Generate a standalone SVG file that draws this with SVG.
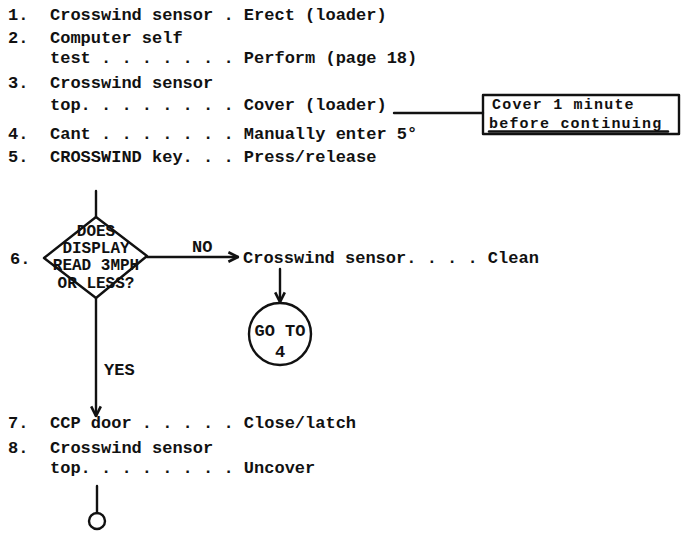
<svg xmlns="http://www.w3.org/2000/svg" width="682" height="533" viewBox="0 0 682 533">
<style>
text{font-family:"Liberation Mono","DejaVu Sans Mono",monospace;font-weight:bold;font-size:17px;fill:#111}
.d{font-size:16px}
.b{font-size:15px;letter-spacing:1.2px}
.ln{fill:none;stroke:#111;stroke-width:2.4;stroke-linecap:round;stroke-linejoin:round}
</style>
<defs>
<marker id="ah" viewBox="0 0 10 10" refX="9" refY="5" markerWidth="5" markerHeight="5" orient="auto" markerUnits="strokeWidth">
<path d="M1,1 L9,5 L1,9" fill="none" stroke="#111" stroke-width="2.2"/>
</marker>
</defs>
<rect width="682" height="533" fill="#fff"/>
<g id="step1"><text x="8" y="20">1.</text><text x="50" y="20">Crosswind sensor . Erect (loader)</text></g>
<g id="step2"><text x="8" y="43">2.</text><text x="50" y="43">Computer self</text><text x="50" y="63">test . . . . . . . Perform (page 18)</text></g>
<g id="step3"><text x="8" y="88">3.</text><text x="50" y="88">Crosswind sensor</text><text x="50" y="110">top. . . . . . . . Cover (loader)</text></g>
<g id="note"><rect class="ln" x="483" y="95" width="196" height="39"/><text class="b" x="492" y="109">Cover 1 minute</text><text class="b" x="489" y="128">before continuing</text><line class="ln" x1="489" y1="131.5" x2="668" y2="131.5" stroke-width="1.6"/></g>
<g id="step4"><text x="8" y="139">4.</text><text x="50" y="139">Cant . . . . . . . Manually enter 5°</text></g>
<g id="step5"><text x="8" y="162">5.</text><text x="50" y="162">CROSSWIND key. . . Press/release</text></g>
<g id="decision"><text x="10" y="264">6.</text><path class="ln" d="M96,217 L44,258 M96,217 L147,256 M44,258 L96,298 M147,256 L96,298"/>
<text class="d" x="96" y="236" text-anchor="middle">DOES</text>
<text class="d" x="96" y="253" text-anchor="middle">DISPLAY</text>
<text class="d" x="96" y="270" text-anchor="middle">READ 3MPH</text>
<text class="d" x="96" y="288" text-anchor="middle">OR LESS?</text></g>
<g id="clean"><text x="243" y="263">Crosswind sensor. . . . Clean</text></g>
<g id="goto"><circle class="ln" cx="280" cy="334" r="31"/><text x="280" y="336" text-anchor="middle">GO TO</text><text x="280" y="357" text-anchor="middle">4</text></g>
<g id="step7"><text x="8" y="428">7.</text><text x="50" y="428">CCP door . . . . . Close/latch</text></g>
<g id="step8"><text x="8" y="453">8.</text><text x="50" y="453">Crosswind sensor</text><text x="50" y="473">top. . . . . . . . Uncover</text></g>
<g id="end"><circle class="ln" cx="97" cy="521" r="8"/></g>
<g id="connectors">
<line class="ln" x1="394" y1="113" x2="483" y2="113"/>
<line class="ln" x1="96" y1="191" x2="96" y2="217"/>
<line class="ln" x1="147" y1="257" x2="238" y2="257" marker-end="url(#ah)"/>
<text x="192" y="252">NO</text>
<line class="ln" x1="280" y1="269" x2="280" y2="302" marker-end="url(#ah)"/>
<line class="ln" x1="96" y1="298" x2="96" y2="416" marker-end="url(#ah)"/>
<text x="104" y="375">YES</text>
<line class="ln" x1="97" y1="486" x2="97" y2="513"/>
</g>
</svg>
